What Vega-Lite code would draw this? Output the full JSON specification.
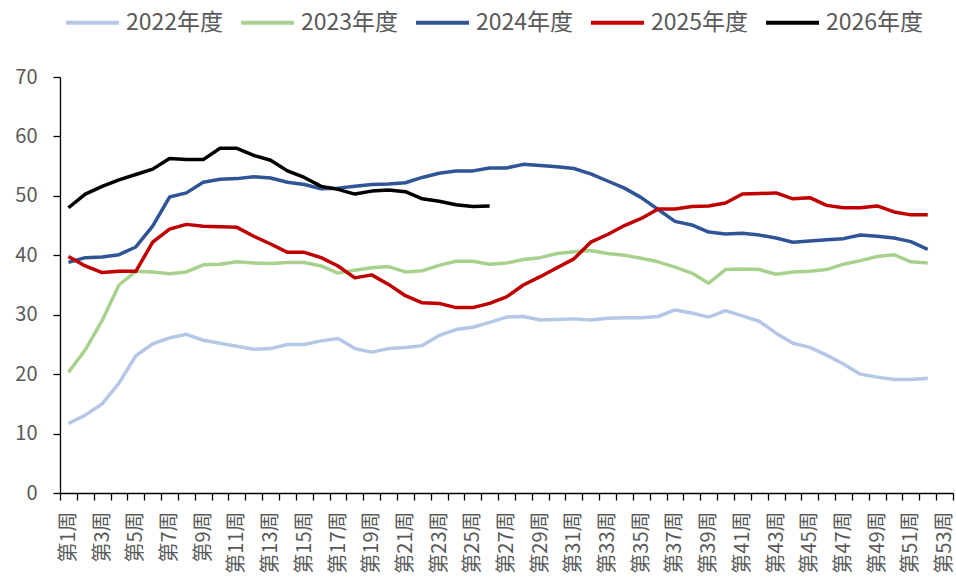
{
  "$schema": "https://vega.github.io/schema/vega-lite/v6.json",
  "width": 893,
  "height": 416,
  "autosize": {"type": "none"},
  "padding": {"left": 60, "top": 77, "right": 3, "bottom": 89},
  "background": "white",
  "config": {
    "view": {"stroke": null},
    "font": "Noto Sans CJK SC"
  },
  "data": {"values": [
    {"s":"2022年度","w":1,"v":11.7},{"s":"2022年度","w":2,"v":13.1},{"s":"2022年度","w":3,"v":15.0},{"s":"2022年度","w":4,"v":18.5},{"s":"2022年度","w":5,"v":23.1},{"s":"2022年度","w":6,"v":25.1},{"s":"2022年度","w":7,"v":26.1},{"s":"2022年度","w":8,"v":26.7},{"s":"2022年度","w":9,"v":25.7},{"s":"2022年度","w":10,"v":25.2},
    {"s":"2022年度","w":11,"v":24.7},{"s":"2022年度","w":12,"v":24.2},{"s":"2022年度","w":13,"v":24.3},{"s":"2022年度","w":14,"v":25.0},{"s":"2022年度","w":15,"v":25.0},{"s":"2022年度","w":16,"v":25.6},{"s":"2022年度","w":17,"v":26.0},{"s":"2022年度","w":18,"v":24.3},{"s":"2022年度","w":19,"v":23.7},{"s":"2022年度","w":20,"v":24.3},
    {"s":"2022年度","w":21,"v":24.5},{"s":"2022年度","w":22,"v":24.8},{"s":"2022年度","w":23,"v":26.5},{"s":"2022年度","w":24,"v":27.5},{"s":"2022年度","w":25,"v":27.9},{"s":"2022年度","w":26,"v":28.7},{"s":"2022年度","w":27,"v":29.6},{"s":"2022年度","w":28,"v":29.7},{"s":"2022年度","w":29,"v":29.1},{"s":"2022年度","w":30,"v":29.2},
    {"s":"2022年度","w":31,"v":29.3},{"s":"2022年度","w":32,"v":29.1},{"s":"2022年度","w":33,"v":29.4},{"s":"2022年度","w":34,"v":29.5},{"s":"2022年度","w":35,"v":29.5},{"s":"2022年度","w":36,"v":29.7},{"s":"2022年度","w":37,"v":30.8},{"s":"2022年度","w":38,"v":30.3},{"s":"2022年度","w":39,"v":29.6},{"s":"2022年度","w":40,"v":30.7},
    {"s":"2022年度","w":41,"v":29.8},{"s":"2022年度","w":42,"v":28.9},{"s":"2022年度","w":43,"v":26.9},{"s":"2022年度","w":44,"v":25.2},{"s":"2022年度","w":45,"v":24.5},{"s":"2022年度","w":46,"v":23.2},{"s":"2022年度","w":47,"v":21.7},{"s":"2022年度","w":48,"v":20.0},{"s":"2022年度","w":49,"v":19.5},{"s":"2022年度","w":50,"v":19.1},
    {"s":"2022年度","w":51,"v":19.1},{"s":"2022年度","w":52,"v":19.3},

    {"s":"2023年度","w":1,"v":20.3},{"s":"2023年度","w":2,"v":24.1},{"s":"2023年度","w":3,"v":29.0},{"s":"2023年度","w":4,"v":35.0},{"s":"2023年度","w":5,"v":37.3},{"s":"2023年度","w":6,"v":37.2},{"s":"2023年度","w":7,"v":36.9},{"s":"2023年度","w":8,"v":37.2},{"s":"2023年度","w":9,"v":38.4},{"s":"2023年度","w":10,"v":38.5},
    {"s":"2023年度","w":11,"v":38.9},{"s":"2023年度","w":12,"v":38.7},{"s":"2023年度","w":13,"v":38.6},{"s":"2023年度","w":14,"v":38.8},{"s":"2023年度","w":15,"v":38.8},{"s":"2023年度","w":16,"v":38.2},{"s":"2023年度","w":17,"v":37.0},{"s":"2023年度","w":18,"v":37.5},{"s":"2023年度","w":19,"v":37.9},{"s":"2023年度","w":20,"v":38.1},
    {"s":"2023年度","w":21,"v":37.2},{"s":"2023年度","w":22,"v":37.4},{"s":"2023年度","w":23,"v":38.3},{"s":"2023年度","w":24,"v":39.0},{"s":"2023年度","w":25,"v":39.0},{"s":"2023年度","w":26,"v":38.5},{"s":"2023年度","w":27,"v":38.7},{"s":"2023年度","w":28,"v":39.3},{"s":"2023年度","w":29,"v":39.6},{"s":"2023年度","w":30,"v":40.3},
    {"s":"2023年度","w":31,"v":40.6},{"s":"2023年度","w":32,"v":40.8},{"s":"2023年度","w":33,"v":40.3},{"s":"2023年度","w":34,"v":40.0},{"s":"2023年度","w":35,"v":39.5},{"s":"2023年度","w":36,"v":38.9},{"s":"2023年度","w":37,"v":38.0},{"s":"2023年度","w":38,"v":37.0},{"s":"2023年度","w":39,"v":35.3},{"s":"2023年度","w":40,"v":37.6},
    {"s":"2023年度","w":41,"v":37.7},{"s":"2023年度","w":42,"v":37.6},{"s":"2023年度","w":43,"v":36.8},{"s":"2023年度","w":44,"v":37.2},{"s":"2023年度","w":45,"v":37.3},{"s":"2023年度","w":46,"v":37.6},{"s":"2023年度","w":47,"v":38.5},{"s":"2023年度","w":48,"v":39.1},{"s":"2023年度","w":49,"v":39.8},{"s":"2023年度","w":50,"v":40.1},
    {"s":"2023年度","w":51,"v":38.9},{"s":"2023年度","w":52,"v":38.7},

    {"s":"2024年度","w":1,"v":38.8},{"s":"2024年度","w":2,"v":39.6},{"s":"2024年度","w":3,"v":39.7},{"s":"2024年度","w":4,"v":40.1},{"s":"2024年度","w":5,"v":41.4},{"s":"2024年度","w":6,"v":44.9},{"s":"2024年度","w":7,"v":49.8},{"s":"2024年度","w":8,"v":50.5},{"s":"2024年度","w":9,"v":52.3},{"s":"2024年度","w":10,"v":52.8},
    {"s":"2024年度","w":11,"v":52.9},{"s":"2024年度","w":12,"v":53.2},{"s":"2024年度","w":13,"v":53.0},{"s":"2024年度","w":14,"v":52.3},{"s":"2024年度","w":15,"v":51.9},{"s":"2024年度","w":16,"v":51.2},{"s":"2024年度","w":17,"v":51.3},{"s":"2024年度","w":18,"v":51.6},{"s":"2024年度","w":19,"v":51.9},{"s":"2024年度","w":20,"v":52.0},
    {"s":"2024年度","w":21,"v":52.2},{"s":"2024年度","w":22,"v":53.1},{"s":"2024年度","w":23,"v":53.8},{"s":"2024年度","w":24,"v":54.2},{"s":"2024年度","w":25,"v":54.2},{"s":"2024年度","w":26,"v":54.7},{"s":"2024年度","w":27,"v":54.7},{"s":"2024年度","w":28,"v":55.3},{"s":"2024年度","w":29,"v":55.1},{"s":"2024年度","w":30,"v":54.9},
    {"s":"2024年度","w":31,"v":54.6},{"s":"2024年度","w":32,"v":53.7},{"s":"2024年度","w":33,"v":52.5},{"s":"2024年度","w":34,"v":51.3},{"s":"2024年度","w":35,"v":49.7},{"s":"2024年度","w":36,"v":47.7},{"s":"2024年度","w":37,"v":45.7},{"s":"2024年度","w":38,"v":45.1},{"s":"2024年度","w":39,"v":43.9},{"s":"2024年度","w":40,"v":43.6},
    {"s":"2024年度","w":41,"v":43.7},{"s":"2024年度","w":42,"v":43.4},{"s":"2024年度","w":43,"v":42.9},{"s":"2024年度","w":44,"v":42.2},{"s":"2024年度","w":45,"v":42.4},{"s":"2024年度","w":46,"v":42.6},{"s":"2024年度","w":47,"v":42.8},{"s":"2024年度","w":48,"v":43.4},{"s":"2024年度","w":49,"v":43.2},{"s":"2024年度","w":50,"v":42.9},
    {"s":"2024年度","w":51,"v":42.3},{"s":"2024年度","w":52,"v":41.0},

    {"s":"2025年度","w":1,"v":39.8},{"s":"2025年度","w":2,"v":38.2},{"s":"2025年度","w":3,"v":37.1},{"s":"2025年度","w":4,"v":37.3},{"s":"2025年度","w":5,"v":37.3},{"s":"2025年度","w":6,"v":42.2},{"s":"2025年度","w":7,"v":44.4},{"s":"2025年度","w":8,"v":45.2},{"s":"2025年度","w":9,"v":44.9},{"s":"2025年度","w":10,"v":44.8},
    {"s":"2025年度","w":11,"v":44.7},{"s":"2025年度","w":12,"v":43.2},{"s":"2025年度","w":13,"v":41.9},{"s":"2025年度","w":14,"v":40.5},{"s":"2025年度","w":15,"v":40.5},{"s":"2025年度","w":16,"v":39.6},{"s":"2025年度","w":17,"v":38.2},{"s":"2025年度","w":18,"v":36.2},{"s":"2025年度","w":19,"v":36.7},{"s":"2025年度","w":20,"v":35.1},
    {"s":"2025年度","w":21,"v":33.2},{"s":"2025年度","w":22,"v":32.0},{"s":"2025年度","w":23,"v":31.9},{"s":"2025年度","w":24,"v":31.2},{"s":"2025年度","w":25,"v":31.2},{"s":"2025年度","w":26,"v":31.9},{"s":"2025年度","w":27,"v":33.0},{"s":"2025年度","w":28,"v":35.0},{"s":"2025年度","w":29,"v":36.4},{"s":"2025年度","w":30,"v":37.9},
    {"s":"2025年度","w":31,"v":39.4},{"s":"2025年度","w":32,"v":42.2},{"s":"2025年度","w":33,"v":43.5},{"s":"2025年度","w":34,"v":45.0},{"s":"2025年度","w":35,"v":46.2},{"s":"2025年度","w":36,"v":47.8},{"s":"2025年度","w":37,"v":47.8},{"s":"2025年度","w":38,"v":48.2},{"s":"2025年度","w":39,"v":48.3},{"s":"2025年度","w":40,"v":48.8},
    {"s":"2025年度","w":41,"v":50.3},{"s":"2025年度","w":42,"v":50.4},{"s":"2025年度","w":43,"v":50.5},{"s":"2025年度","w":44,"v":49.5},{"s":"2025年度","w":45,"v":49.7},{"s":"2025年度","w":46,"v":48.4},{"s":"2025年度","w":47,"v":48.0},{"s":"2025年度","w":48,"v":48.0},{"s":"2025年度","w":49,"v":48.3},{"s":"2025年度","w":50,"v":47.3},
    {"s":"2025年度","w":51,"v":46.8},{"s":"2025年度","w":52,"v":46.8},

    {"s":"2026年度","w":1,"v":48.0},{"s":"2026年度","w":2,"v":50.3},{"s":"2026年度","w":3,"v":51.6},{"s":"2026年度","w":4,"v":52.7},{"s":"2026年度","w":5,"v":53.6},{"s":"2026年度","w":6,"v":54.5},{"s":"2026年度","w":7,"v":56.3},{"s":"2026年度","w":8,"v":56.1},{"s":"2026年度","w":9,"v":56.1},{"s":"2026年度","w":10,"v":58.0},
    {"s":"2026年度","w":11,"v":58.0},{"s":"2026年度","w":12,"v":56.8},{"s":"2026年度","w":13,"v":56.0},{"s":"2026年度","w":14,"v":54.2},{"s":"2026年度","w":15,"v":53.1},{"s":"2026年度","w":16,"v":51.6},{"s":"2026年度","w":17,"v":51.1},{"s":"2026年度","w":18,"v":50.3},{"s":"2026年度","w":19,"v":50.8},{"s":"2026年度","w":20,"v":51.0},
    {"s":"2026年度","w":21,"v":50.7},{"s":"2026年度","w":22,"v":49.5},{"s":"2026年度","w":23,"v":49.1},{"s":"2026年度","w":24,"v":48.5},{"s":"2026年度","w":25,"v":48.2},{"s":"2026年度","w":26,"v":48.3}
  ]},
  "mark": {"type": "line", "strokeWidth": 3.5, "strokeJoin": "round", "strokeCap": "butt"},
  "encoding": {
    "x": {
      "field": "w",
      "type": "ordinal",
      "bandPosition": 0.5,
      "scale": {
        "type": "band",
        "paddingInner": 0,
        "paddingOuter": 0,
        "domain": [1,2,3,4,5,6,7,8,9,10,11,12,13,14,15,16,17,18,19,20,21,22,23,24,25,26,27,28,29,30,31,32,33,34,35,36,37,38,39,40,41,42,43,44,45,46,47,48,49,50,51,52,53]
      },
      "axis": {
        "title": null,
        "grid": false,
        "domainColor": "#000000",
        "domainWidth": 1.3,
        "tickColor": "#000000",
        "tickWidth": 1.3,
        "tickSize": 7,
        "tickBand": "extent",
        "labelAngle": -90,
        "labelPadding": 11,
        "labelFontSize": 20,
        "labelColor": "#595959",
        "labelFont": "Noto Sans CJK SC",
        "labelOverlap": false,
        "labelExpr": "datum.value % 2 == 1 ? '第' + datum.value + '周' : ''"
      }
    },
    "y": {
      "field": "v",
      "type": "quantitative",
      "scale": {"domain": [0, 70], "nice": false, "zero": true},
      "axis": {
        "title": null,
        "grid": false,
        "values": [0,10,20,30,40,50,60,70],
        "domainColor": "#000000",
        "domainWidth": 1.3,
        "tickColor": "#000000",
        "tickWidth": 1.3,
        "tickSize": 7,
        "labelPadding": 16,
        "labelFontSize": 20,
        "labelColor": "#595959",
        "labelFont": "Noto Sans CJK SC"
      }
    },
    "color": {
      "field": "s",
      "type": "nominal",
      "scale": {
        "domain": ["2022年度","2023年度","2024年度","2025年度","2026年度"],
        "range": ["#B4C7E7","#A9D18E","#2F5597","#C00000","#000000"]
      },
      "legend": {
        "title": null,
        "orient": "none",
        "direction": "horizontal",
        "legendX": 4,
        "legendY": -83,
        "padding": 0,
        "symbolType": "stroke",
        "symbolSize": 2809,
        "symbolStrokeWidth": 4,
        "labelOffset": 5,
        "labelFontSize": 23,
        "labelColor": "#595959",
        "labelFont": "Noto Sans CJK SC",
        "labelLimit": 200,
        "columnPadding": 9
      }
    }
  }
}
